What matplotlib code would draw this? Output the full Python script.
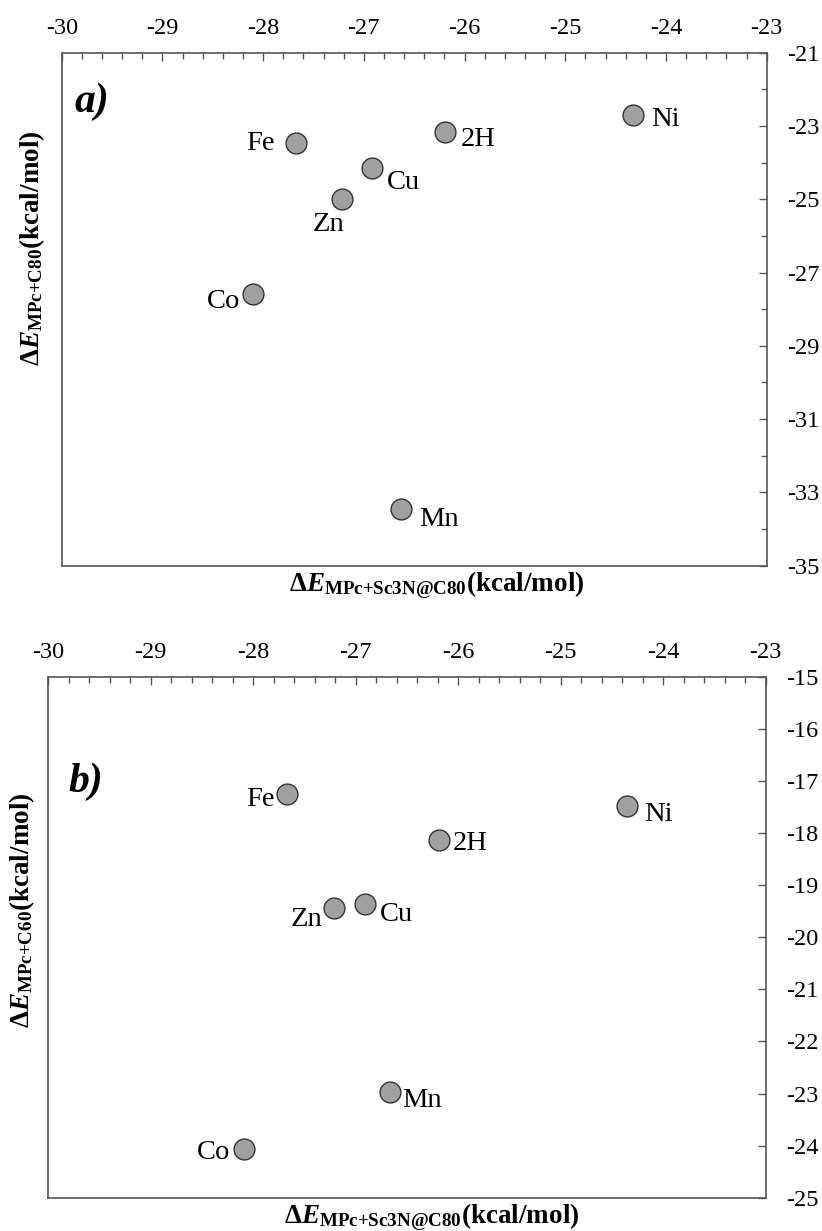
import matplotlib
matplotlib.use("Agg")
import matplotlib.pyplot as plt
from matplotlib.ticker import MultipleLocator, FixedLocator

plt.rcParams['font.family'] = ['Liberation Serif', 'DejaVu Serif']
plt.rcParams['axes.unicode_minus'] = False
plt.rcParams['mathtext.fontset'] = 'custom'
plt.rcParams['mathtext.rm'] = 'Liberation Serif:bold'
plt.rcParams['mathtext.it'] = 'Liberation Serif:italic:bold'
plt.rcParams['mathtext.bf'] = 'Liberation Serif:bold'

# data
metals = ['Ni', '2H', 'Fe', 'Cu', 'Zn', 'Co', 'Mn']
e_sc3n_a = [-24.33, -26.19, -27.67, -26.92, -27.22, -28.10, -26.63]
e_c80 = [-22.70, -23.16, -23.47, -24.16, -24.99, -27.58, -33.45]
e_sc3n_b = [-24.35, -26.19, -27.67, -26.91, -27.21, -28.09, -26.67]
e_c60 = [-17.48, -18.13, -17.25, -19.36, -19.43, -24.07, -22.98]

yticks_a = [-35, -33, -31, -29, -27, -25, -23, -21]
yminor_a = [-34, -32, -30, -28, -26, -24, -22]
yticks_b = [-25, -24, -23, -22, -21, -20, -19, -18, -17, -16, -15]

# label offsets in pixels (dx, dy, ha)
offs_a = {'Ni': (18, -11, 'left'), '2H': (15, -14, 'left'), 'Fe': (-22, -7, 'right'),
          'Cu': (15, -21, 'left'), 'Zn': (-13, -32, 'center'), 'Co': (-13, -14, 'right'),
          'Mn': (18, -17, 'left')}
offs_b = {'Ni': (17, -15, 'left'), '2H': (14, -10, 'left'), 'Fe': (-12, -12, 'right'),
          'Cu': (15, -17, 'left'), 'Zn': (-12, -18, 'right'), 'Co': (-14, -10, 'right'),
          'Mn': (13, -15, 'left')}

W, H = 822, 1231
fig = plt.figure(figsize=(W / 100, H / 100), dpi=100)


def px_axes(l, t, r, b):
    return fig.add_axes([l / W, 1 - b / H, (r - l) / W, (b - t) / H])


spine_col = '#555555'


def style(ax, yticks, yminor):
    ax.set_xlim(-30, -23)
    ax.set_ylim(min(yticks), max(yticks))
    ax.xaxis.tick_top()
    ax.yaxis.tick_right()
    ax.xaxis.set_major_locator(MultipleLocator(1))
    ax.xaxis.set_minor_locator(MultipleLocator(0.2))
    ax.yaxis.set_major_locator(FixedLocator(yticks))
    ax.yaxis.set_minor_locator(FixedLocator(yminor))
    ax.tick_params(which='both', direction='in', color=spine_col, width=1)
    ax.tick_params(which='major', length=6, labelsize=17.5)
    ax.tick_params(which='minor', length=4.5)
    ax.tick_params(axis='x', which='major', pad=10)
    ax.tick_params(axis='y', which='major', pad=14.5)
    for s in ax.spines.values():
        s.set_color(spine_col)
        s.set_linewidth(1.2)


def points(ax, xs, ys, offs):
    ax.scatter(xs, ys, s=225, c='#a0a0a0', edgecolors='#333333', linewidths=1, zorder=3)
    for m, x, y in zip(metals, xs, ys):
        dx, dy, ha = offs[m]
        ax.annotate(m, (x, y), xytext=(dx, dy), textcoords='offset pixels',
                    ha=ha, va='baseline', fontsize=20.5)


ax1 = px_axes(61.7, 52.7, 766.7, 565.7)
style(ax1, yticks_a, yminor_a)
points(ax1, e_sc3n_a, e_c80, offs_a)

ax2 = px_axes(48.3, 676.7, 765.7, 1197.7)
style(ax2, yticks_b, [])
points(ax2, e_sc3n_b, e_c60, offs_b)

xlab = r'$\Delta \mathit{E}_{\mathrm{MPc{+}Sc3N@C80}}$(kcal/mol)'
ylab_a = r'$\Delta \mathit{E}_{\mathrm{MPc{+}C80}}$(kcal/mol)'
ylab_b = r'$\Delta \mathit{E}_{\mathrm{MPc{+}C60}}$(kcal/mol)'

fig.text(437 / W, 1 - 591 / H, xlab, ha='center', va='baseline', fontsize=19.5, fontweight='bold')
fig.text(432 / W, 1 - 1223 / H, xlab, ha='center', va='baseline', fontsize=19.5, fontweight='bold')
fig.text(32 / W, 1 - 248 / H, ylab_a, rotation=90, ha='center', va='center', fontsize=19.5, fontweight='bold')
fig.text(22 / W, 1 - 910 / H, ylab_b, rotation=90, ha='center', va='center', fontsize=19.5, fontweight='bold')

fig.text(75 / W, 1 - 112 / H, 'a)', fontsize=30, fontweight='bold', fontstyle='italic', va='baseline')
fig.text(68 / W, 1 - 792 / H, 'b)', fontsize=30, fontweight='bold', fontstyle='italic', va='baseline')

fig.savefig('out.png', dpi=100)
